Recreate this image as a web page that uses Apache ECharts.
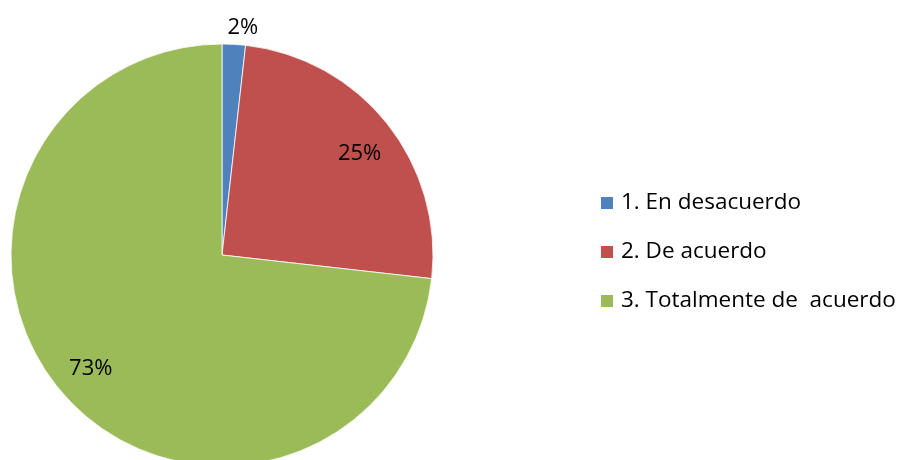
<!DOCTYPE html>
<html><head><meta charset="utf-8">
<script src="https://cdn.jsdelivr.net/npm/echarts@6/dist/echarts.min.js"></script>
<style>html,body{margin:0;padding:0;background:#fff}#c{width:910px;height:460px}</style>
</head><body><div id="c"></div>
<script>
const categories = ['1. En desacuerdo', '2. De acuerdo', '3. Totalmente de  acuerdo'];
const values = [1, 14, 41];
const colors = ['#4F81BD', '#C0504D', '#9BBB59'];

const FONT = 'Open Sans';
const chart = echarts.init(document.getElementById('c'), null, {renderer: 'canvas'});
const fmt = p => Math.round(p.percent) + '%';
const R = 211;
const labelOffsets = [[11, -52], [0, 8], [0, -4]];
chart.setOption({
  animation: false,
  legend: {
    orient: 'vertical', left: 599, top: 189, padding: 0,
    itemWidth: 14, itemHeight: 14, itemGap: 21,
    icon: 'rect',
    textStyle: {fontFamily: FONT, fontSize: 22.5, lineHeight: 28, color: '#000', padding: [0,0,0,2]},
    data: categories
  },
  series: [
    {
      type: 'pie', center: [222, 255], radius: [0, R], startAngle: 90, clockwise: true,
      label: {show: false}, labelLine: {show: false}, silent: true,
      itemStyle: {borderColor: '#fff', borderWidth: 0.8},
      data: categories.map((n, i) => ({name: n, value: values[i], itemStyle: {color: colors[i]}}))
    },
    {
      type: 'pie', center: [222, 255], radius: [R * 0.64, R], startAngle: 90, clockwise: true,
      silent: true, legendHoverLink: false,
      itemStyle: {color: 'rgba(0,0,0,0)'},
      labelLine: {show: false},
      label: {show: true, position: 'inside', formatter: fmt, fontFamily: FONT, fontSize: 22, color: '#000'},
      data: categories.map((n, i) => ({
        name: n + ' ', value: values[i],
        label: {offset: labelOffsets[i]}
      }))
    }
  ]
});
</script></body></html>
